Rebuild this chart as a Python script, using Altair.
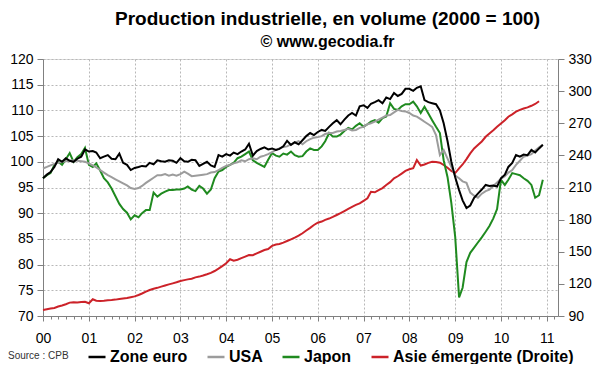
import altair as alt
import pandas as pd

# ---------------- data (monthly, Jan 2000 onwards) ----------------
zone_euro = [
    96.8, 97.5, 98.0, 99.0, 100.5, 100.0, 100.7, 100.2, 100.0, 100.6, 101.0, 102.4,
    102.0, 102.1, 101.8, 100.7, 101.0, 101.3, 100.6, 100.5, 101.6, 99.8, 99.4, 98.4,
    98.8, 99.0, 99.2, 99.1, 99.8, 99.5, 100.3, 100.1, 100.0, 100.3, 100.2, 99.8,
    100.7, 100.1, 100.0, 100.4, 100.3, 99.2, 99.6, 100.0, 99.3, 99.0, 101.3, 101.0,
    101.5, 101.2, 101.8, 101.5, 102.0, 102.4, 103.5, 101.2, 102.1, 102.5, 102.8, 102.4,
    102.6, 102.3, 102.5, 103.0, 104.1, 103.3, 103.8, 103.4, 104.2, 105.0, 105.6, 105.2,
    105.8, 106.2, 106.0, 106.8, 107.5, 108.1, 107.3, 108.2, 109.0, 109.5, 109.0, 110.8,
    111.0, 110.5, 111.3, 111.6, 112.0, 111.4, 112.5, 112.2, 113.4, 112.8, 113.2, 114.2,
    114.2, 113.8, 114.4, 114.7, 112.0, 111.6, 111.4, 111.2, 110.0, 107.5, 104.0, 100.0,
    97.0, 94.5, 92.5, 91.0, 91.5, 93.0, 93.8, 94.6, 95.5, 95.3, 95.4, 95.2,
    96.8, 97.5, 99.0, 99.8, 101.3, 101.0, 101.4, 101.3, 102.3, 101.8, 102.6, 103.3,
]
usa = [
    98.7, 99.0, 99.3, 99.6, 99.8, 100.0, 100.1, 100.2, 100.3, 100.2, 100.1, 100.0,
    99.7, 99.3, 98.9, 98.4, 97.9, 97.4, 97.0, 96.6, 96.2, 95.8, 95.4, 94.9,
    94.7, 94.9, 95.3, 95.9, 96.4, 96.9, 97.4, 97.4, 97.6, 97.3, 97.5, 97.3,
    97.6, 98.1, 97.7, 97.2, 97.3, 97.4, 97.5, 97.6, 97.9, 98.0, 98.4, 98.8,
    99.2, 99.4, 99.7, 99.9, 100.3, 100.1, 100.5, 100.7, 100.5, 101.0, 101.2, 101.5,
    101.9, 102.3, 102.6, 102.9, 103.0, 103.4, 103.7, 104.0, 103.4, 104.0, 104.4, 104.7,
    104.8, 105.0, 105.4, 105.6, 105.6, 105.9, 106.0, 106.2, 106.4, 106.1, 106.2, 106.6,
    106.8, 107.3, 107.5, 107.8, 108.2, 108.6, 109.0, 109.1, 109.6, 110.1, 109.9, 109.8,
    109.5, 109.0, 108.8, 108.3, 107.8, 107.3, 106.8, 105.2, 101.3, 102.3, 100.6, 99.0,
    97.3, 96.8, 96.2, 95.9, 94.0, 93.4, 93.0, 93.8, 94.3, 94.6, 95.3, 96.0,
    96.7, 97.2, 97.9, 98.4, 99.4, 100.2, 101.0, 101.2, 101.5, 102.2, 102.8, 103.3,
]
japon = [
    96.8, 97.4, 97.8, 99.4, 100.0, 99.4, 100.5, 101.7, 100.0, 100.9, 101.5, 102.7,
    99.4, 99.0, 99.7, 98.3, 96.8, 96.0, 94.8, 93.3, 91.8, 90.8, 90.1, 88.8,
    89.6, 89.2, 90.0, 90.6, 90.6, 94.0, 93.2, 93.8, 94.2, 94.5, 94.5, 94.6,
    94.6, 94.8, 95.2, 94.6, 94.3, 95.3, 94.8, 93.8, 94.6, 96.8, 98.1, 98.4,
    99.0, 99.4, 99.8, 100.7, 101.0, 101.5, 102.0, 100.3, 99.8, 99.4, 99.0, 100.4,
    101.7, 101.2, 101.0, 101.6, 101.4, 102.0, 101.3, 101.0, 101.1, 102.0, 102.6, 102.3,
    102.3, 103.0, 104.0, 105.6, 104.9, 104.9, 105.3, 106.0, 106.6, 106.3, 107.0, 107.5,
    106.8, 107.3, 107.8, 108.1, 107.6, 108.5, 108.8, 111.4, 110.3, 110.1, 110.8, 111.2,
    111.2, 111.7, 110.8, 109.5, 110.7, 109.4, 108.1, 106.8, 105.6, 100.3, 97.0, 92.0,
    85.4, 73.6, 75.5, 80.5, 82.3, 83.3, 84.3, 85.3, 86.4, 87.5, 89.0, 90.8,
    96.5, 95.5, 96.5, 97.8, 97.6, 97.4, 96.8, 96.3, 95.5, 93.0, 93.5, 96.5,
]
asie = [
    95.6, 96.3, 97.0, 97.5, 98.8, 99.8, 101.0, 102.5, 102.8, 102.5, 103.0, 103.3,
    101.9, 105.6, 104.2, 104.0, 104.3, 104.8, 105.0, 105.3, 105.8, 106.3, 106.8, 107.5,
    108.3, 109.6, 111.0, 112.8, 114.3, 115.5, 116.3, 117.4, 118.5, 119.5, 120.5, 121.5,
    122.7, 123.5, 124.2, 124.8, 126.1, 126.8, 127.8, 129.0, 130.3, 132.0, 134.2, 136.6,
    139.2, 143.0, 141.6, 142.5, 144.0, 145.5, 147.0, 146.8, 148.5, 150.0, 151.6, 152.5,
    155.5, 156.8, 157.2, 158.5, 160.0, 161.6, 163.2, 165.0, 167.3, 169.8, 172.3, 175.0,
    177.1, 178.2, 179.8, 181.0, 182.5, 184.3, 186.0, 188.0, 190.0, 192.0, 193.8, 195.2,
    197.5, 199.9, 206.0, 205.5, 207.6, 209.5, 212.3, 215.0, 218.6, 220.5, 223.0, 225.5,
    227.0, 228.0, 235.7, 230.5, 231.5, 233.0, 234.1, 233.8, 233.2, 231.0, 228.5, 225.5,
    223.5, 227.9, 231.5, 236.5, 241.9, 246.5, 249.7, 253.0, 257.4, 260.5, 263.5, 266.7,
    269.8, 272.8, 276.1, 278.3, 280.8, 282.5, 283.8, 284.8, 286.3, 288.0, 290.5,
]

series_names = ["Zone euro", "USA", "Japon", "Asie émergente (Droite)"]
series_colors = ["#000000", "#9c9c9c", "#1f8a1f", "#cc2229"]
left_ticks = list(range(70, 121, 5))
right_ticks = list(range(90, 331, 30))
title_text = "Production industrielle, en volume (2000 = 100)"
subtitle_text = "© www.gecodia.fr"
source_text = "Source : CPB"


def month_dates(n):
    return [f"{2000 + i // 12}-{i % 12 + 1:02d}-01" for i in range(n)]


def frame(values, name):
    return pd.DataFrame({"date": month_dates(len(values)), "value": values, "serie": name})


FONT = "Liberation Sans"

# x ticks every two months, labels + grid only in January
x_tick_values = [
    int(pd.Timestamp(year=2000 + i // 12, month=i % 12 + 1, day=1).value // 10**6)
    for i in range(0, 135, 2)
]
is_jan = "utcmonth(datum.value) === 0"

x_enc = alt.X(
    "date:T",
    scale=alt.Scale(
        type="utc",
        domain=[
            alt.DateTime(year=2000, month=1, date=1, utc=True),
            alt.DateTime(year=2011, month=4, date=1, utc=True),
        ],
    ),
    axis=alt.Axis(
        values=x_tick_values,
        labelExpr=f"{is_jan} ? utcFormat(datum.value, '%y') : ''",
        grid=True,
        gridDash=[2, 2],
        gridColor="#b8b8b8",
        gridOpacity={"condition": {"test": is_jan, "value": 1}, "value": 0},
        tickSize={"condition": {"test": is_jan, "value": 5}, "value": 3},
        tickColor="#808080",
        domainColor="#808080",
        labelFont=FONT,
        labelFontSize=14,
        labelColor="#000000",
        labelPadding=10,
        labelFlush=False,
        labelOverlap=False,
        title=None,
    ),
)

y_left = alt.Y(
    "value:Q",
    scale=alt.Scale(domain=[70, 120], nice=False, zero=False),
    axis=alt.Axis(
        orient="left",
        values=left_ticks,
        grid=True,
        gridDash=[2, 2],
        gridColor="#b8b8b8",
        tickSize=6,
        tickColor="#808080",
        domainColor="#808080",
        labelFont=FONT,
        labelFontSize=14,
        labelColor="#000000",
        labelPadding=4,
        title=None,
    ),
)

y_right = alt.Y(
    "value:Q",
    scale=alt.Scale(domain=[90, 330], nice=False, zero=False),
    axis=alt.Axis(
        orient="right",
        values=right_ticks,
        grid=False,
        tickSize=6,
        tickColor="#808080",
        domainColor="#808080",
        labelFont=FONT,
        labelFontSize=14,
        labelColor="#000000",
        labelPadding=4,
        title=None,
    ),
)

color_enc = alt.Color(
    "serie:N",
    scale=alt.Scale(domain=series_names, range=series_colors),
    legend=alt.Legend(
        orient="none",
        legendX=-35,
        legendY=288,
        direction="horizontal",
        title=source_text,
        titleOrient="left",
        titleFont=FONT,
        titleFontSize=10,
        titleFontWeight="normal",
        titleColor="#333333",
        titlePadding=18,
        titleBaseline="middle",
        labelFont=FONT,
        labelFontSize=16,
        labelFontWeight="bold",
        labelColor="#000000",
        labelOffset=3,
        labelLimit=400,
        symbolType="stroke",
        symbolSize=289,
        symbolStrokeWidth=2.5,
        columnPadding=14,
    ),
)


def line(values, name, y_enc):
    return alt.Chart(frame(values, name)).mark_line(strokeWidth=2).encode(
        x=x_enc, y=y_enc, color=color_enc
    )


red = line(asie, series_names[3], y_right)
left = alt.layer(
    line(japon, series_names[2], y_left),
    line(usa, series_names[1], y_left),
    line(zone_euro, series_names[0], y_left),
)

chart = (
    alt.layer(red, left)
    .resolve_scale(y="independent")
    .properties(
        width=515,
        height=257,
        autosize=alt.AutoSizeParams(type="none"),
        padding={"left": 35, "top": 51, "right": 34, "bottom": 48},
        title=alt.TitleParams(
            text=title_text,
            subtitle=subtitle_text,
            font=FONT,
            fontSize=19,
            fontWeight="bold",
            color="#000000",
            subtitleFont=FONT,
            subtitleFontSize=16,
            subtitleFontWeight="bold",
            subtitleColor="#000000",
            subtitlePadding=5,
            anchor="middle",
            dx=27,
            offset=2,
        ),
    )
    .configure_view(stroke="#b8b8b8")
    .configure(background="#ffffff")
)

chart.save("out.html", embed_options={"renderer": "svg", "actions": False})
